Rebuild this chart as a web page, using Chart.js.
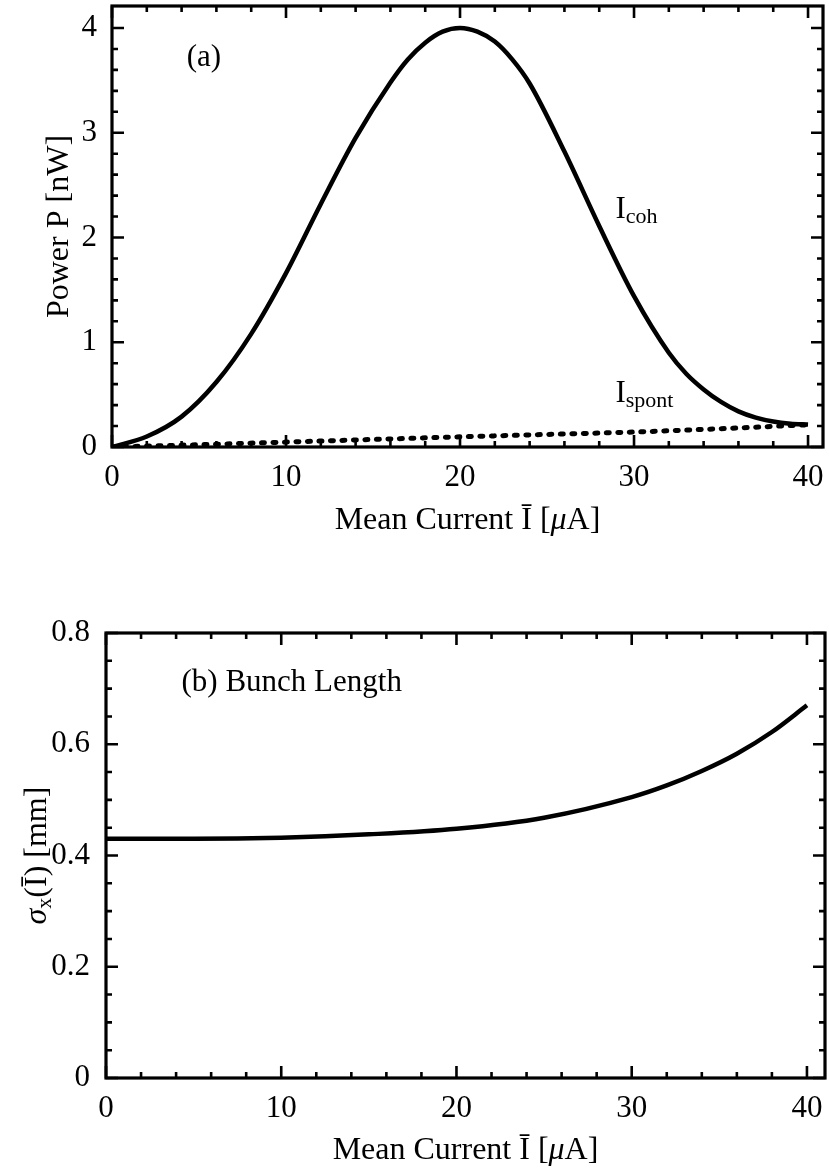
<!DOCTYPE html>
<html>
<head>
<meta charset="utf-8">
<script src="https://cdn.jsdelivr.net/npm/chart.js@4.4.1/dist/chart.umd.min.js"></script>
<style>
  html, body { margin: 0; padding: 0; background: #fff; }
  body { width: 829px; height: 1169px; position: relative; overflow: hidden; }
  canvas { position: absolute; left: 0; }
  #chartA { top: 0; }
  #chartB { top: 600px; }
</style>
</head>
<body>
<canvas id="chartA" width="829" height="550"></canvas>
<canvas id="chartB" width="829" height="569"></canvas>
<script>
// (a) radiated power vs mean current
const currentCoh = [0, 2, 4, 6, 8, 10, 12, 14, 16, 17, 18, 19, 20, 21, 22, 23, 24, 26, 28, 30, 32, 33, 34, 35, 36, 37, 38, 39, 40];
const powerCoh = [0, 0.10, 0.29, 0.62, 1.08, 1.66, 2.32, 2.95, 3.48, 3.70, 3.86, 3.965, 4.00, 3.965, 3.87, 3.70, 3.47, 2.82, 2.11, 1.44, 0.90, 0.70, 0.55, 0.43, 0.34, 0.28, 0.243, 0.223, 0.215];
const currentSpont = [0, 5, 10, 15, 20, 25, 30, 35, 40];
const powerSpont = [0, 0.022, 0.047, 0.072, 0.097, 0.12, 0.143, 0.175, 0.212];

// (b) bunch length vs mean current
const currentBunch = [0, 5, 10, 15, 20, 25, 30, 32, 34, 36, 38, 40];
const bunchLength = [0.430, 0.430, 0.432, 0.438, 0.448, 0.468, 0.505, 0.526, 0.552, 0.583, 0.622, 0.670];

// tick labels and tick marks
const xTicks = [0, 10, 20, 30, 40];
const xMinor = [0, 2, 4, 6, 8, 10, 12, 14, 16, 18, 20, 22, 24, 26, 28, 30, 32, 34, 36, 38, 40];
const yTicksA = [0, 1, 2, 3, 4];
const yMinorA = [0, 0.2, 0.4, 0.6, 0.8, 1, 1.2, 1.4, 1.6, 1.8, 2, 2.2, 2.4, 2.6, 2.8, 3, 3.2, 3.4, 3.6, 3.8, 4];
const yTicksB = [0, 0.2, 0.4, 0.6, 0.8];
const yLabelsB = ['0', '0.2', '0.4', '0.6', '0.8'];
const yMinorB = [0, 0.05, 0.1, 0.15, 0.2, 0.25, 0.3, 0.35, 0.4, 0.45, 0.5, 0.55, 0.6, 0.65, 0.7, 0.75, 0.8];

const serif = '"Liberation Serif", "Times New Roman", serif';

function runFont(r, size) {
    return (r.it ? 'italic ' : '') + (r.sub ? Math.round(size * 0.7) : size) + 'px ' + serif;
}

// draw a line of text made of runs (italic / subscript parts)
function drawRuns(ctx, runs, x, y, size, align) {
    let w = 0;
    const widths = runs.map(r => {
        ctx.font = runFont(r, size);
        const m = ctx.measureText(r.t).width;
        w += m;
        return m;
    });
    let cx = align === 'center' ? x - w / 2 : x;
    runs.forEach((r, i) => {
        ctx.font = runFont(r, size);
        ctx.fillText(r.t, cx, y + (r.sub ? size * 0.16 : 0));
        cx += widths[i];
    });
}

// frame with inward ticks on all four sides, titles and in-plot labels
const framePlugin = {
    id: 'frame',
    afterDatasetsDraw(chart, args, opts) {
        const { ctx, chartArea: a, scales: { x, y } } = chart;
        ctx.save();
        ctx.strokeStyle = '#000';
        ctx.lineWidth = 2.6;
        ctx.beginPath();
        opts.xMinor.forEach(v => {
            const len = opts.xMajor.includes(v) ? 12 : 6;
            const px = x.getPixelForValue(v);
            ctx.moveTo(px, a.bottom); ctx.lineTo(px, a.bottom - len);
            ctx.moveTo(px, a.top); ctx.lineTo(px, a.top + len);
        });
        opts.yMinor.forEach(v => {
            const len = opts.yMajor.includes(v) ? 12 : 6;
            const py = y.getPixelForValue(v);
            ctx.moveTo(a.left, py); ctx.lineTo(a.left + len, py);
            ctx.moveTo(a.right, py); ctx.lineTo(a.right - len, py);
        });
        ctx.stroke();
        ctx.lineWidth = 3.2;
        ctx.strokeRect(a.left, a.top, a.right - a.left, a.bottom - a.top);
        ctx.restore();
    },
    afterDraw(chart, args, opts) {
        const { ctx, chartArea: a, scales: { x, y } } = chart;
        ctx.save();
        ctx.fillStyle = '#000';
        ctx.textAlign = 'left';
        ctx.textBaseline = 'alphabetic';
        // axis titles
        drawRuns(ctx, opts.xTitle, (a.left + a.right) / 2, a.bottom + opts.xTitleOffset, 32, 'center');
        ctx.save();
        ctx.translate(opts.yTitleX, (a.top + a.bottom) / 2);
        ctx.rotate(-Math.PI / 2);
        drawRuns(ctx, opts.yTitle, 0, 0, 32, 'center');
        ctx.restore();
        // labels inside the plot
        opts.notes.forEach(n => {
            drawRuns(ctx, n.runs, x.getPixelForValue(n.x), y.getPixelForValue(n.y), 31, 'left');
        });
        ctx.restore();
    }
};

function noPad(s) {
    s.paddingTop = 0; s.paddingBottom = 0; s.paddingLeft = 0; s.paddingRight = 0;
}

function xScale(max, height) {
    return {
        type: 'linear', min: 0, max: max, bounds: 'data',
        afterBuildTicks: s => { s.ticks = xTicks.map(v => ({ value: v })); },
        afterFit: s => { s.height = height; noPad(s); },
        grid: { display: false, drawTicks: false },
        border: { display: false },
        ticks: { color: '#000', font: { family: serif, size: 31 }, padding: 12, maxRotation: 0, autoSkip: false,
                 callback: v => String(v) }
    };
}

function yScale(min, max, ticks, labels, width, pad) {
    return {
        type: 'linear', min: min, max: max, bounds: 'data',
        afterBuildTicks: s => { s.ticks = ticks.map(v => ({ value: v })); },
        afterFit: s => { s.width = width; noPad(s); },
        grid: { display: false, drawTicks: false },
        border: { display: false },
        ticks: { color: '#000', font: { family: serif, size: 31 }, padding: pad, autoSkip: false,
                 callback: (v, i) => labels[i] }
    };
}

const xTitleRuns = [{ t: 'Mean Current Ī [' }, { t: 'μ', it: true }, { t: 'A]' }];

new Chart(document.getElementById('chartA'), {
    type: 'line',
    data: {
        datasets: [
            {
                data: currentCoh.map((x, i) => ({ x: x, y: powerCoh[i] })),
                borderColor: '#000', borderWidth: 4.5, pointRadius: 0,
                cubicInterpolationMode: 'monotone'
            },
            {
                data: currentSpont.map((x, i) => ({ x: x, y: powerSpont[i] })),
                borderColor: '#000', borderWidth: 5, pointRadius: 0,
                borderDash: [3, 8.5], borderCapStyle: 'round',
                cubicInterpolationMode: 'monotone'
            }
        ]
    },
    options: {
        responsive: false,
        animation: false,
        layout: { padding: { top: 6, right: 6, left: 0, bottom: 0 } },
        scales: {
            x: xScale(40.86, 103),
            y: yScale(0, 4.21, yTicksA, yTicksA.map(String), 112, 15)
        },
        plugins: {
            legend: { display: false },
            tooltip: { enabled: false },
            frame: {
                xMajor: xTicks, xMinor: xMinor, yMajor: yTicksA, yMinor: yMinorA,
                xTitle: xTitleRuns, xTitleOffset: 82,
                yTitle: [{ t: 'Power P [nW]' }], yTitleX: 68,
                notes: [
                    { x: 4.29, y: 3.64, runs: [{ t: '(a)' }] },
                    { x: 28.93, y: 2.19, runs: [{ t: 'I' }, { t: 'coh', sub: true }] },
                    { x: 28.93, y: 0.43, runs: [{ t: 'I' }, { t: 'spont', sub: true }] }
                ]
            }
        }
    },
    plugins: [framePlugin]
});

new Chart(document.getElementById('chartB'), {
    type: 'line',
    data: {
        datasets: [
            {
                data: currentBunch.map((x, i) => ({ x: x, y: bunchLength[i] })),
                borderColor: '#000', borderWidth: 4.5, pointRadius: 0,
                cubicInterpolationMode: 'monotone'
            }
        ]
    },
    options: {
        responsive: false,
        animation: false,
        layout: { padding: { top: 33, right: 4, left: 0, bottom: 0 } },
        scales: {
            x: xScale(41.03, 91),
            y: yScale(0, 0.8, yTicksB, yLabelsB, 106, 16)
        },
        plugins: {
            legend: { display: false },
            tooltip: { enabled: false },
            frame: {
                xMajor: xTicks, xMinor: xMinor, yMajor: yTicksB, yMinor: yMinorB,
                xTitle: xTitleRuns, xTitleOffset: 81,
                yTitle: [{ t: 'σ', it: true }, { t: 'x', sub: true }, { t: '(Ī) [mm]' }], yTitleX: 46,
                notes: [
                    { x: 4.31, y: 0.695, runs: [{ t: '(b) Bunch Length' }] }
                ]
            }
        }
    },
    plugins: [framePlugin]
});
</script>
</body>
</html>
